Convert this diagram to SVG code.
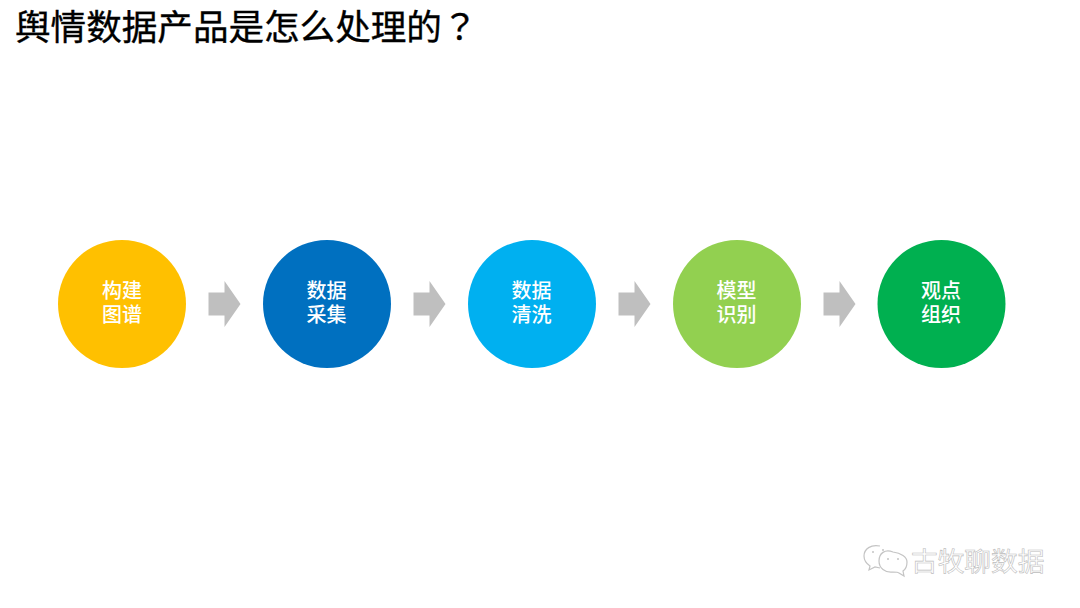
<svg xmlns="http://www.w3.org/2000/svg" width="1080" height="608" viewBox="0 0 1080 608">
<defs>
<polygon id="arrow" points="0,-11.5 16,-11.5 16,-23 32,0 16,23 16,11.5 0,11.5"/>
</defs>
<style>
text{font-family:"Noto Sans CJK SC","Liberation Sans",sans-serif}
.l{font-size:20px;font-weight:500;fill:#fff;text-anchor:middle}
.a{fill:#bfbfbf}
.wm{font-size:26.700px;text-anchor:start}
.b{fill:none;stroke:#c4c4c4;stroke-width:1.2}
.e{fill:#c4c4c4}
</style>
<rect width="1080" height="608" fill="#fff"/>
<text x="15" y="40" font-size="35.600" fill="#000" stroke="#000" stroke-width="0.35">舆情数据产品是怎么处理的<tspan style="font-family:'Noto Sans CJK TC',sans-serif">？</tspan></text>
<g id="connectors">
<use href="#arrow" class="a" x="208.500" y="304"/>
<use href="#arrow" class="a" x="413.500" y="304"/>
<use href="#arrow" class="a" x="618.500" y="304"/>
<use href="#arrow" class="a" x="823.500" y="304"/>
</g>
<g id="n1"><circle cx="122" cy="304" r="64" fill="#ffc000"/><text class="l" y="298"><tspan x="122">构建</tspan><tspan x="122" dy="24">图谱</tspan></text></g>
<g id="n2"><circle cx="327" cy="304" r="64" fill="#0070c0"/><text class="l" y="298"><tspan x="326.500">数据</tspan><tspan x="326.500" dy="24">采集</tspan></text></g>
<g id="n3"><circle cx="532" cy="304" r="64" fill="#00b0f0"/><text class="l" y="298"><tspan x="531.500">数据</tspan><tspan x="531.500" dy="24">清洗</tspan></text></g>
<g id="n4"><circle cx="737" cy="304" r="64" fill="#92d050"/><text class="l" y="298"><tspan x="736.500">模型</tspan><tspan x="736.500" dy="24">识别</tspan></text></g>
<g id="n5"><circle cx="941.500" cy="304" r="64" fill="#00b050"/><text class="l" y="298"><tspan x="941">观点</tspan><tspan x="941" dy="24">组织</tspan></text></g>
<g id="watermark" opacity="0.99">
<path class="b" d="M880 546C871 544 864 549 864 556C864 561 867 564 870 566L869 570L875 567L880 568"/>
<path class="b" d="M893 552C885 549 879 553 879 561C879 568 885 573 893 572C896 572 898 572 899 573L904 576L903 571C906 569 907 566 907 562C907 557 901 553 893 552Z"/>
<circle class="e" cx="873" cy="552" r="1"/><circle class="e" cx="883" cy="550" r="1"/><circle class="e" cx="888" cy="559" r="1"/><circle class="e" cx="898" cy="559" r="1"/>
<text class="wm" x="911" y="571" fill="#fff" stroke="#bcbcbc" stroke-width="0.6">古牧聊数据</text>
</g>
</svg>
